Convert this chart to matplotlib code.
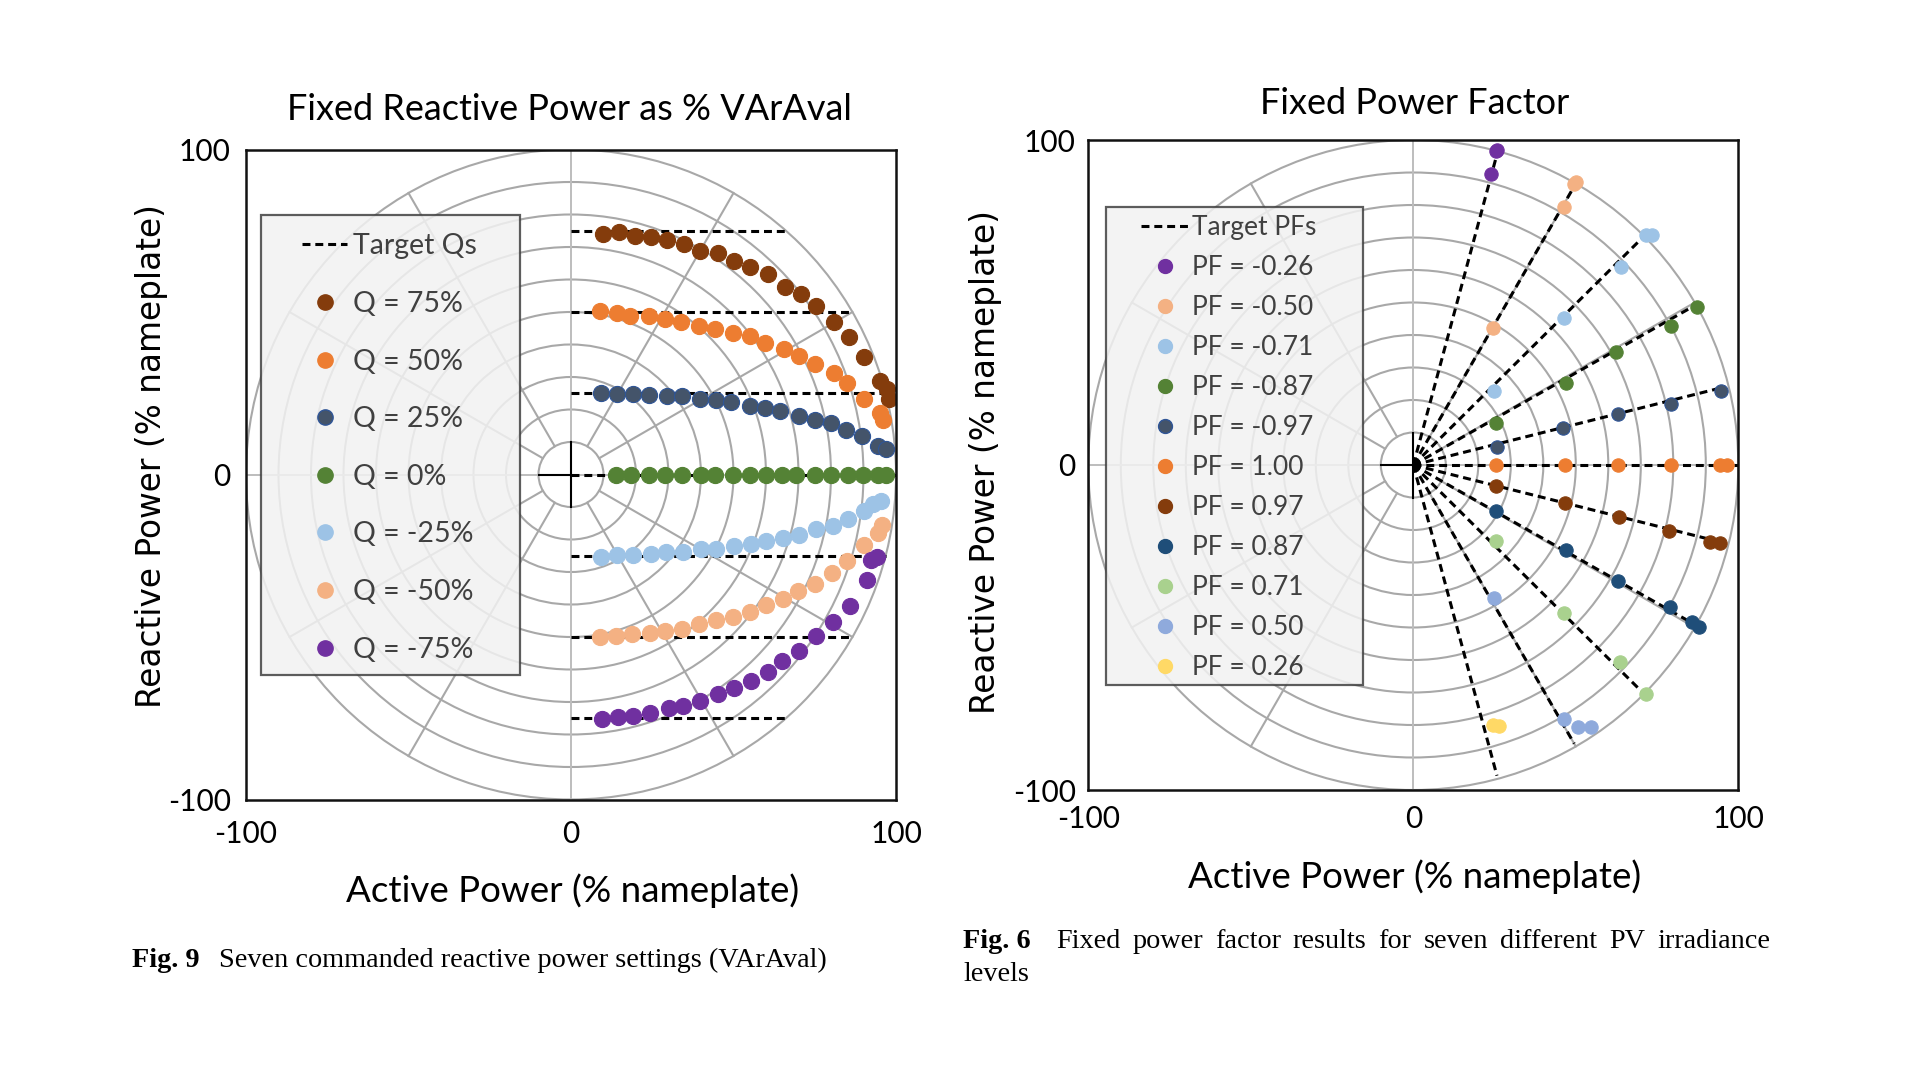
import numpy as np
import matplotlib
matplotlib.use('Agg')
import matplotlib.pyplot as plt
from matplotlib.lines import Line2D
from matplotlib.patches import Circle, Rectangle

plt.rcParams['axes.unicode_minus'] = False

# ---------------- data: left chart (fixed reactive power) ----------------
q_labels = ['Q = 75%', 'Q = 50%', 'Q = 25%', 'Q = 0%', 'Q = -25%', 'Q = -50%', 'Q = -75%']
q_targets = [75, 50, 25, 0, -25, -50, -75]
q_target_end = [66, 86, 97, 100, 97, 86, 66]
q_colors = ['#843C0C', '#ED7D31', '#44546A', '#548235', '#9DC3E6', '#F4B183', '#7030A0']
q_edges = ['#843C0C', '#ED7D31', '#2F5597', '#548235', '#9DC3E6', '#F4B183', '#7030A0']

q75_p = [9.8, 14.7, 19.6, 24.5, 29.5, 34.9, 39.6, 45.2, 50.0, 55.0, 60.6, 65.7, 70.9, 75.5, 80.9, 85.5, 90.3, 95.0, 97.3, 97.8]
q75_q = [74.1, 74.6, 73.5, 73.1, 72.3, 70.8, 68.9, 68.2, 65.6, 63.9, 61.8, 57.7, 55.6, 51.8, 46.8, 42.4, 36.2, 28.7, 26.2, 23.3]
q50_p = [9.0, 14.3, 18.3, 24.0, 29.0, 33.9, 39.4, 44.4, 49.8, 55.0, 59.8, 65.4, 70.1, 75.0, 80.8, 85.0, 90.3, 95.0, 96.0]
q50_q = [50.2, 49.8, 48.7, 48.9, 47.9, 46.9, 45.8, 44.8, 43.6, 42.6, 40.5, 38.7, 36.6, 34.1, 31.1, 28.2, 23.3, 19.0, 16.9]
q25_p = [9.3, 14.3, 19.1, 23.9, 29.5, 34.3, 39.6, 44.5, 49.3, 55.0, 59.6, 64.4, 70.1, 75.0, 79.9, 84.5, 89.6, 94.4, 96.8]
q25_q = [25.1, 24.9, 24.8, 24.6, 24.1, 24.1, 23.1, 22.9, 22.4, 21.0, 20.5, 19.5, 17.9, 16.9, 15.9, 13.8, 11.8, 8.9, 7.9]
q0_p = [13.7, 18.6, 23.9, 29.0, 34.3, 40.1, 44.2, 49.8, 55.0, 59.9, 64.8, 69.3, 75.0, 79.9, 85.2, 89.8, 94.4, 96.8]
q0_q = [0.0, 0.0, 0.0, 0.0, 0.0, 0.0, 0.0, 0.0, 0.0, 0.0, 0.0, 0.0, 0.0, 0.0, 0.0, 0.0, 0.0, 0.0]
qm25_p = [9.3, 14.3, 19.1, 24.7, 29.3, 34.4, 39.9, 44.7, 50.1, 55.5, 60.1, 65.2, 70.1, 75.5, 80.6, 85.2, 90.1, 92.9, 95.5]
qm25_q = [-25.3, -24.9, -24.9, -24.6, -23.9, -23.9, -22.9, -22.9, -22.1, -21.5, -20.5, -19.5, -18.5, -16.9, -15.7, -13.8, -11.3, -9.2, -8.2]
qm50_p = [9.0, 13.9, 18.7, 24.2, 29.0, 34.3, 39.4, 44.7, 49.8, 55.0, 60.1, 65.2, 69.8, 75.0, 80.3, 85.0, 90.3, 94.4, 95.7]
qm50_q = [-50.1, -49.8, -49.2, -48.7, -48.2, -47.5, -45.9, -44.9, -43.9, -42.4, -40.3, -38.2, -35.7, -33.6, -30.2, -26.7, -21.8, -17.9, -15.4]
qm75_p = [9.6, 14.4, 19.1, 24.2, 30.3, 34.4, 39.8, 45.2, 50.1, 55.3, 60.6, 65.0, 70.3, 75.3, 80.6, 85.7, 91.2, 92.2, 94.1]
qm75_q = [-75.2, -74.7, -74.2, -73.3, -71.8, -71.1, -69.8, -67.4, -65.6, -63.4, -60.8, -57.4, -54.2, -49.8, -45.4, -40.5, -32.6, -26.4, -25.3]
q_series_p = [q75_p, q50_p, q25_p, q0_p, qm25_p, qm50_p, qm75_p]
q_series_q = [q75_q, q50_q, q25_q, q0_q, qm25_q, qm50_q, qm75_q]

# ---------------- data: right chart (fixed power factor) ----------------
pf_values = [-0.26, -0.50, -0.71, -0.87, -0.97, 1.00, 0.97, 0.87, 0.71, 0.50, 0.26]
pf_labels = ['PF = -0.26', 'PF = -0.50', 'PF = -0.71', 'PF = -0.87', 'PF = -0.97', 'PF = 1.00',
             'PF = 0.97', 'PF = 0.87', 'PF = 0.71', 'PF = 0.50', 'PF = 0.26']
pf_colors = ['#7030A0', '#F4B183', '#9DC3E6', '#548235', '#44546A', '#ED7D31',
             '#843C0C', '#1F4E79', '#A9D18E', '#8FAADC', '#FFD966']
pf_edges = ['#7030A0', '#F4B183', '#9DC3E6', '#548235', '#2F5597', '#ED7D31',
            '#843C0C', '#1F4E79', '#A9D18E', '#8FAADC', '#FFD966']
pf_target_len = [99, 99, 99, 99, 99, 100, 99, 99, 99, 99, 99]

pfm26_p = [25.4, 25.9, 23.9]
pfm26_q = [96.5, 97.0, 89.4]
pfm50_p = [49.5, 50.2, 46.3, 24.4]
pfm50_q = [86.5, 87.0, 79.3, 42.1]
pfm71_p = [71.7, 73.3, 63.8, 46.5, 24.9]
pfm71_q = [70.9, 70.7, 60.9, 45.2, 22.8]
pfm87_p = [87.3, 79.2, 62.5, 47.1, 25.5]
pfm87_q = [48.5, 42.9, 34.7, 25.2, 12.9]
pfm97_p = [94.8, 79.4, 63.0, 46.2, 25.7]
pfm97_q = [22.8, 18.7, 15.6, 11.3, 5.6]
pf100_p = [25.5, 46.8, 63.0, 79.2, 94.3, 96.4]
pf100_q = [0.0, 0.0, 0.0, 0.0, 0.0, 0.0]
pf97_p = [25.3, 46.8, 63.3, 78.7, 91.4, 94.3]
pf97_q = [-6.5, -11.8, -16.1, -20.2, -23.6, -23.9]
pf87_p = [25.3, 47.1, 63.0, 78.9, 85.9, 87.9]
pf87_q = [-14.1, -26.0, -35.7, -43.8, -48.3, -49.8]
pf71_p = [25.3, 46.5, 63.7, 71.5]
pf71_q = [-23.4, -45.5, -60.6, -70.6]
pf50_p = [24.8, 46.3, 50.6, 54.8]
pf50_q = [-40.8, -78.1, -80.6, -80.6]
pf26_p = [24.4, 26.3]
pf26_q = [-79.9, -80.3]
pf_series_p = [pfm26_p, pfm50_p, pfm71_p, pfm87_p, pfm97_p, pf100_p, pf97_p, pf87_p, pf71_p, pf50_p, pf26_p]
pf_series_q = [pfm26_q, pfm50_q, pfm71_q, pfm87_q, pfm97_q, pf100_q, pf97_q, pf87_q, pf71_q, pf50_q, pf26_q]

ticks = [-100, 0, 100]
tick_labels = ['-100', '0', '100']

# ---------------- styling ----------------
SANS = 'Lato'
YFONT = 'DejaVu Sans'
SERIF = 'Liberation Serif'
GRID = '#a8a8a8'
W, H = 1920, 1080
TICK_FS = 21.5
TITLE_FS = 26
XLAB_FS = 26.5
YLAB_FS = 23.6

fig = plt.figure(figsize=(19.2, 10.8), dpi=100)
fig.patch.set_facecolor('white')


def fx(px):
    return px / W


def fy(py):
    return 1 - py / H


def setup_axes(ax, xpad, ypad):
    ax.set_xlim(-100, 100)
    ax.set_ylim(-100, 100)
    ax.set_xticks(ticks)
    ax.set_yticks(ticks)
    ax.set_xticklabels(tick_labels, fontfamily=SANS, fontsize=TICK_FS)
    ax.set_yticklabels(tick_labels, fontfamily=SANS, fontsize=TICK_FS)
    ax.tick_params(axis='x', length=0, pad=xpad)
    ax.tick_params(axis='y', length=0, pad=ypad)
    for s in ax.spines.values():
        s.set_linewidth(1.8)
        s.set_color('#111111')
        s.set_zorder(6)
    # polar-style grid
    for r in range(10, 101, 10):
        ax.add_patch(Circle((0, 0), r, fill=False, ec=GRID, lw=1.5, zorder=1))
    for a in range(0, 360, 30):
        if a % 90 == 0:
            continue
        t = np.deg2rad(a)
        ax.plot([10 * np.cos(t), 100 * np.cos(t)], [10 * np.sin(t), 100 * np.sin(t)],
                color=GRID, lw=1.5, zorder=1)
    ax.axhline(0, color='#bdbdbd', lw=1.4, zorder=1)
    ax.axvline(0, color='#bdbdbd', lw=1.4, zorder=1)
    ax.plot([-10, 0], [0, 0], color='black', lw=1.5, zorder=1.5)
    ax.plot([0, 0], [-10, 10], color='black', lw=1.5, zorder=1.5)


# ---------------- left chart ----------------
axL = fig.add_axes([fx(246), fy(799.5), 650 / W, 650 / H])
setup_axes(axL, xpad=15, ypad=11)

for qt, xe in zip(q_targets, q_target_end):
    axL.plot([0, xe], [qt, qt], color='black', lw=2.2, dashes=(2.6, 1.6), zorder=3)
for p, q, c, e in zip(q_series_p, q_series_q, q_colors, q_edges):
    axL.scatter(p, q, s=135, color=c, edgecolors=e, linewidths=0.8, zorder=4)

axL.add_patch(Rectangle((0.0238, 0.192), 0.398, 0.708, transform=axL.transAxes,
                        facecolor='#f2f2f2', edgecolor='#404040', lw=1.6, alpha=0.85, zorder=2.5))
handlesL = [Line2D([], [], color='black', lw=2.2, dashes=(2.6, 1.6))]
for c, e in zip(q_colors, q_edges):
    handlesL.append(Line2D([], [], ls='none', marker='o', markersize=11, markerfacecolor=c,
                           markeredgecolor=e))
legL = axL.legend(handlesL, ['Target Qs'] + q_labels, loc='upper left',
                  bbox_to_anchor=(0.086, 0.871), frameon=False, borderpad=0, borderaxespad=0,
                  handlelength=1.6, handletextpad=0.18, labelspacing=1.11,
                  prop={'family': SANS, 'size': 20.5})
for t in legL.get_texts():
    t.set_color('#404040')
legL.set_zorder(7)

fig.text(fx(569), fy(109), 'Fixed Reactive Power as % VArAval', ha='center', va='center',
         fontsize=TITLE_FS, fontfamily=SANS, color='black')
fig.text(fx(573), fy(891), 'Active Power (% nameplate)', ha='center', va='center',
         fontsize=XLAB_FS, fontfamily=SANS, color='black')
fig.text(fx(151), fy(456), 'Reactive Power (% nameplate)', ha='center', va='center',
         rotation=90, fontsize=YLAB_FS, fontfamily=YFONT, color='black')

# ---------------- right chart ----------------
axR = fig.add_axes([fx(1088.3), fy(790), 650 / W, 650 / H])
setup_axes(axR, xpad=11, ypad=9)

for pf, L in zip(pf_values, pf_target_len):
    ang = np.arccos(abs(pf)) * (1 if pf < 0 else -1)
    axR.plot([0, L * np.cos(ang)], [0, L * np.sin(ang)], color='black', lw=2.2,
             dashes=(2.6, 1.6), zorder=3)
for p, q, c, e in zip(pf_series_p, pf_series_q, pf_colors, pf_edges):
    axR.scatter(p, q, s=92, color=c, edgecolors=e, linewidths=0.8, zorder=4)

axR.add_patch(Rectangle((0.027, 0.1615), 0.395, 0.735, transform=axR.transAxes,
                        facecolor='#f2f2f2', edgecolor='#404040', lw=1.6, alpha=0.85, zorder=2.5))
handlesR = [Line2D([], [], color='black', lw=2.2, dashes=(2.6, 1.6))]
for c, e in zip(pf_colors, pf_edges):
    handlesR.append(Line2D([], [], ls='none', marker='o', markersize=10, markerfacecolor=c,
                           markeredgecolor=e))
legR = axR.legend(handlesR, ['Target PFs'] + pf_labels, loc='upper left',
                  bbox_to_anchor=(0.081, 0.885), frameon=False, borderpad=0, borderaxespad=0,
                  handlelength=1.8, handletextpad=0.12, labelspacing=0.57,
                  prop={'family': SANS, 'size': 19})
for t in legR.get_texts():
    t.set_color('#404040')
legR.set_zorder(7)

fig.text(fx(1415), fy(104), 'Fixed Power Factor', ha='center', va='center',
         fontsize=TITLE_FS, fontfamily=SANS, color='black')
fig.text(fx(1415), fy(877), 'Active Power (% nameplate)', ha='center', va='center',
         fontsize=XLAB_FS, fontfamily=SANS, color='black')
fig.text(fx(986), fy(462), 'Reactive Power (% nameplate)', ha='center', va='center',
         rotation=90, fontsize=YLAB_FS, fontfamily=YFONT, color='black')

# ---------------- captions ----------------
CAP = 20.3
fig.text(fx(132), fy(967), 'Fig. 9', ha='left', va='baseline', fontsize=CAP,
         fontfamily=SERIF, fontweight='bold')
fig.text(fx(219), fy(967), 'Seven commanded reactive power settings (VArAval)', ha='left',
         va='baseline', fontsize=CAP, fontfamily=SERIF)

fig.text(fx(963), fy(948), 'Fig. 6', ha='left', va='baseline', fontsize=CAP,
         fontfamily=SERIF, fontweight='bold')
words = 'Fixed power factor results for seven different PV irradiance'.split()
renderer = fig.canvas.get_renderer()
wt = [fig.text(0, fy(948), w, ha='left', va='baseline', fontsize=CAP, fontfamily=SERIF)
      for w in words]
widths = [t.get_window_extent(renderer).width for t in wt]
x0, x1 = 1056, 1770
gap = (x1 - x0 - sum(widths)) / (len(words) - 1)
xc = x0
for t, wd in zip(wt, widths):
    t.set_x(fx(xc))
    xc += wd + gap
fig.text(fx(963), fy(981), 'levels', ha='left', va='baseline', fontsize=CAP, fontfamily=SERIF)

fig.savefig('out.png', dpi=100, facecolor='white')
